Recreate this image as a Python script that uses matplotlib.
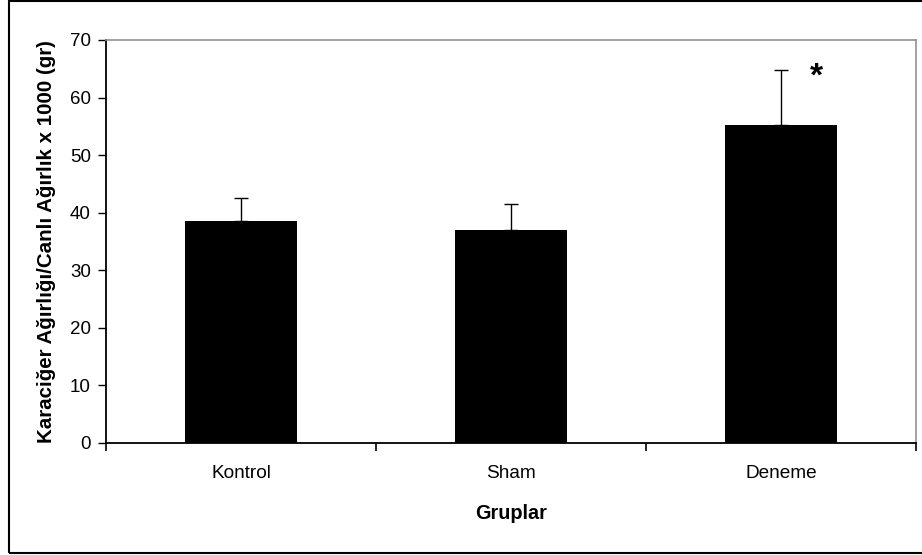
import matplotlib.pyplot as plt
from matplotlib.patches import Rectangle

plt.rcParams['font.family'] = ['Liberation Sans', 'DejaVu Sans']

# group means and upper error (SD)
groups = ['Kontrol', 'Sham', 'Deneme']
means = [38.6, 36.9, 55.2]
errors = [3.9, 4.6, 9.5]
lower = [0, 0, 0]
star_group = 'Deneme'
star_y = 63.6

fig = plt.figure(figsize=(9.22, 5.55), dpi=100)
ax = fig.add_axes([0.115, 0.202, 0.8785, 0.726])

x = range(len(groups))
ax.bar(x, means, width=0.416, color='black', zorder=2)
ax.errorbar(x, means, yerr=[lower, errors], fmt='none', ecolor='black',
            elinewidth=1, capsize=5, capthick=1, zorder=3)

# asterisk next to the significant group
i = groups.index(star_group)
ax.text(i + 0.13, star_y, '*', fontsize=24, fontweight='bold',
        ha='center', va='center')

ax.set_xlim(-0.5, len(groups) - 0.5)
ax.set_ylim(0, 70)
ax.set_yticks(range(0, 71, 10))
ax.set_xticks(x)
ax.set_xticklabels(groups, fontsize=13.7)
ax.tick_params(axis='x', length=0, pad=16)
ax.set_xticks([-0.5, 0.5, 1.5, 2.5], minor=True)
ax.tick_params(axis='x', which='minor', length=6, width=1.2, direction='out')
ax.tick_params(axis='y', labelsize=13.5, length=6, width=1, direction='out', pad=5)

for side in ['left', 'bottom']:
    ax.spines[side].set_color('black')
    ax.spines[side].set_linewidth(1.3)
for side in ['top', 'right']:
    ax.spines[side].set_color('#909090')
    ax.spines[side].set_linewidth(1.2)

ax.set_xlabel('Gruplar', fontsize=14.3, fontweight='bold', labelpad=16)
ax.set_ylabel('Karaciğer Ağırlığı/Canlı Ağırlık x 1000 (gr)', fontsize=14.8,
              fontweight='bold', labelpad=10)

# outer frame (right edge falls off the picture)
fig.patches.append(Rectangle((9 / 922, 2 / 555), 1.2, 552 / 555,
                             transform=fig.transFigure, fill=False,
                             edgecolor='black', linewidth=1.5))

plt.savefig('out.png', dpi=100)
